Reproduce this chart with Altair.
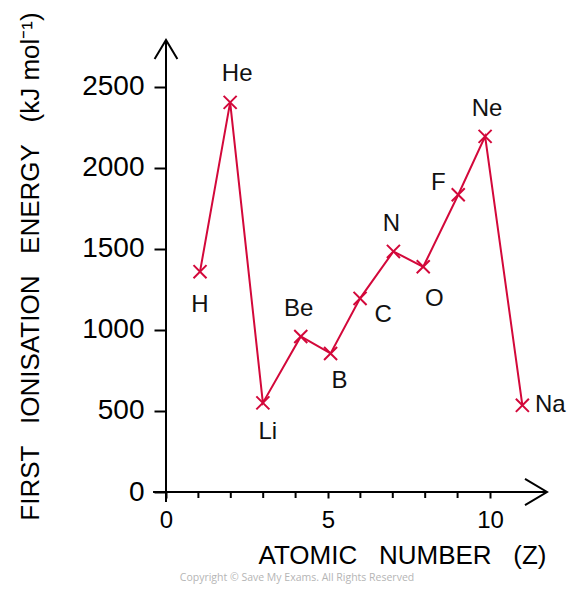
import altair as alt
import pandas as pd

# ---- data ----
elements = ["H", "He", "Li", "Be", "B", "C", "N", "O", "F", "Ne", "Na"]
atomic_number = [1.05, 1.98, 2.99, 4.16, 5.08, 5.99, 7.02, 7.94, 9.02, 9.85, 11.0]
ionisation_energy = [1360, 2405, 550, 960, 855, 1195, 1485, 1390, 1835, 2195, 535]

y_ticks = [0, 500, 1000, 1500, 2000, 2500]
x_labels = [0, 5, 10]
x_minor_ticks = [1, 2, 3, 4, 6, 7, 8, 9]

df = pd.DataFrame({"el": elements, "z": atomic_number, "ie": ionisation_energy})
minor_df = pd.DataFrame({"z": x_minor_ticks})

RED = "#d3083a"
FONT = "Liberation Sans"
X_MAX = 11.76
Y_MAX = 2790
TICK_DEPTH = -37  # in energy units, i.e. about 6 px below the axis
GAP = "\u00a0\u00a0\u00a0"

x_title = "ATOMIC" + GAP + "NUMBER" + GAP + "(Z)"
y_title = "FIRST" + GAP + "IONISATION" + GAP + "ENERGY" + GAP + "(kJ mol⁻¹)"

# label offsets (dx, dy) in pixels, styling only
label_offsets = {
    "H": (0, 33), "He": (7, -28), "Li": (5, 29), "Be": (-2, -27), "B": (9, 28),
    "C": (23, 17), "N": (-2, -27), "O": (11, 32), "F": (-20, -12), "Ne": (2, -27),
    "Na": (28, 0),
}

xscale = alt.Scale(domain=[0, X_MAX], nice=False, zero=False)
yscale = alt.Scale(domain=[0, Y_MAX], nice=False, zero=False)

base = alt.Chart(df)

line = base.mark_line(color=RED, strokeWidth=2).encode(
    x=alt.X("z:Q", scale=xscale, axis=alt.Axis(
        values=x_labels, domain=False, grid=False, tickSize=6, tickWidth=2,
        tickColor="black", labelOverlap=False, format="d",
        labelFontSize=24, labelColor="black", labelFont=FONT, labelPadding=10,
        labelFlush=False,
        title=x_title, titleFontSize=26, titleFont=FONT,
        titleFontWeight="normal", titleColor="black",
        titleX=236, titleY=63, titleBaseline="middle", titleAlign="center")),
    y=alt.Y("ie:Q", scale=yscale, axis=alt.Axis(
        values=y_ticks, domain=False, grid=False, tickSize=12, tickWidth=2,
        tickColor="black", labelFontSize=28, labelColor="black", labelFont=FONT,
        labelPadding=10, labelFlush=False, format="d", labelOverlap=False,
        title=y_title, titleFontSize=26,
        titleFont=FONT, titleFontWeight="normal", titleColor="black",
        titleAngle=270, titleX=-136, titleY=226, titleBaseline="middle",
        titleAlign="center")),
    order="z:Q",
)

minor_ticks = alt.Chart(minor_df).mark_rule(color="black", strokeWidth=2).encode(
    x="z:Q", y=alt.datum(0), y2=alt.datum(TICK_DEPTH))

points = base.mark_point(
    shape="M-1,-1L1,1M1,-1L-1,1", size=170, filled=False, stroke=RED,
    strokeWidth=2, opacity=1,
).encode(x="z:Q", y="ie:Q")

label_layers = []
for el, (dx, dy) in label_offsets.items():
    label_layers.append(
        base.transform_filter(alt.datum.el == el).mark_text(
            fontSize=24, font=FONT, color="#111111", dx=dx, dy=dy,
            align="center", baseline="middle",
        ).encode(x="z:Q", y="ie:Q", text="el:N")
    )

one = alt.Chart(pd.DataFrame({"k": [0]}))

x_axis_line = one.mark_rule(color="black", strokeWidth=2).encode(
    x=alt.datum(-0.4), x2=alt.datum(X_MAX), y=alt.datum(0))
y_axis_line = one.mark_rule(color="black", strokeWidth=2).encode(
    x=alt.datum(0), y=alt.datum(-62), y2=alt.datum(Y_MAX))

y_arrow = one.mark_point(
    shape="M-0.6,1L0,0L0.6,1", size=1444, filled=False, stroke="black",
    strokeWidth=2, opacity=1,
).encode(x=alt.datum(0), y=alt.datum(Y_MAX))
x_arrow = one.mark_point(
    shape="M-1,-0.6L0,0L-1,0.6", size=1936, filled=False, stroke="black",
    strokeWidth=2, opacity=1,
).encode(x=alt.datum(X_MAX), y=alt.datum(0))

copyright_txt = one.mark_text(
    text="Copyright © Save My Exams. All Rights Reserved", fontSize=10.5,
    font="Open Sans", color="#b5b5b5", align="center", baseline="middle",
).encode(x=alt.value(131), y=alt.value(538))

chart = alt.layer(
    line, minor_ticks, x_axis_line, y_axis_line, y_arrow, x_arrow, points,
    *label_layers, copyright_txt,
).properties(
    width=381, height=452,
    autosize=alt.AutoSizeParams(type="none"),
    padding={"left": 158, "top": 32, "right": 20, "bottom": 92},
    background="white",
).configure_view(strokeWidth=0).configure_axis(labelOverlap=False)

chart.save("out.html", embed_options={"renderer": "svg", "actions": False})
